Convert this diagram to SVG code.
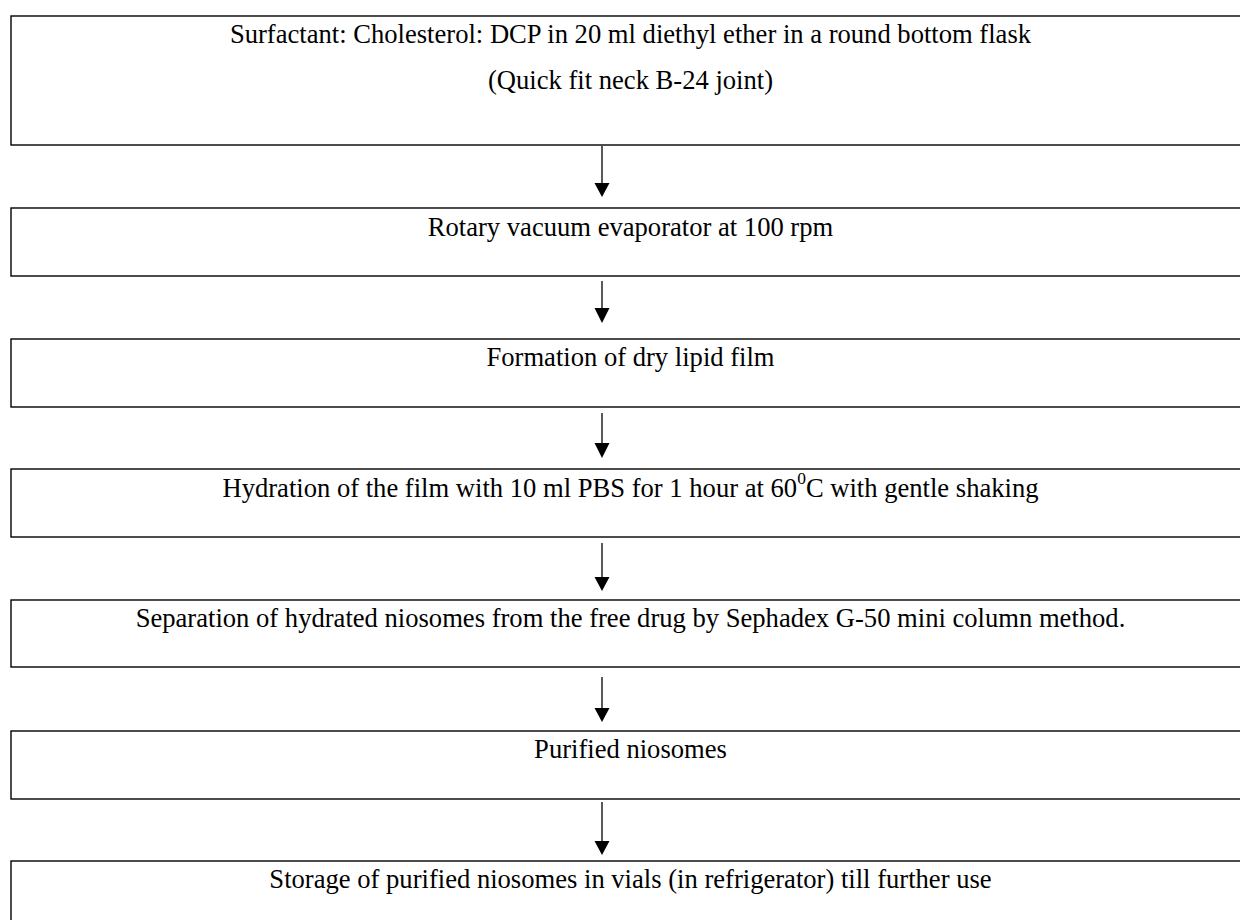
<svg xmlns="http://www.w3.org/2000/svg" width="1240" height="920" viewBox="0 0 1240 920">
<defs>
<style>
.box{fill:#fff;stroke:#000;stroke-width:1.4}
.t{font-family:"Liberation Serif","Times New Roman",serif;font-size:26.6px;fill:#000;text-anchor:middle}
.c{stroke:#000;stroke-width:1.3;fill:none}
.h{fill:#000}
</style>
</defs>
<rect width="1240" height="920" fill="#fff"/>
<g id="n1"><rect class="box" x="11" y="16" width="1240" height="129"/>
<text class="t" x="630.5" y="43">Surfactant: Cholesterol: DCP in 20 ml diethyl ether in a round bottom flask</text>
<text class="t" x="630.5" y="89">(Quick fit neck B-24 joint)</text></g>
<g id="n2"><rect class="box" x="11" y="208" width="1240" height="68"/>
<text class="t" x="630.5" y="236">Rotary vacuum evaporator at 100 rpm</text></g>
<g id="n3"><rect class="box" x="11" y="339" width="1240" height="68"/>
<text class="t" x="630.5" y="366">Formation of dry lipid film</text></g>
<g id="n4"><rect class="box" x="11" y="469" width="1240" height="68"/>
<text class="t" x="630.5" y="497">Hydration of the film with 10 ml PBS for 1 hour at 60<tspan dy="-13" font-size="17.5">0</tspan><tspan dy="13">C with gentle shaking</tspan></text></g>
<g id="n5"><rect class="box" x="11" y="600" width="1240" height="67"/>
<text class="t" x="630.5" y="627">Separation of hydrated niosomes from the free drug by Sephadex G-50 mini column method.</text></g>
<g id="n6"><rect class="box" x="11" y="731" width="1240" height="68"/>
<text class="t" x="630.5" y="758">Purified niosomes</text></g>
<g id="n7"><rect class="box" x="11" y="861" width="1240" height="80"/>
<text class="t" x="630.5" y="888">Storage of purified niosomes in vials (in refrigerator) till further use</text></g>
<g id="connectors">
<line class="c" x1="602" y1="146" x2="602" y2="184"/><polygon class="h" points="594.5,183 609.5,183 602,197"/>
<line class="c" x1="602" y1="281" x2="602" y2="309"/><polygon class="h" points="594.5,308 609.5,308 602,323"/>
<line class="c" x1="602" y1="413" x2="602" y2="444"/><polygon class="h" points="594.5,443 609.5,443 602,458"/>
<line class="c" x1="602" y1="543" x2="602" y2="578"/><polygon class="h" points="594.5,577 609.5,577 602,591"/>
<line class="c" x1="602" y1="677" x2="602" y2="709"/><polygon class="h" points="594.5,708 609.5,708 602,722"/>
<line class="c" x1="602" y1="802" x2="602" y2="842"/><polygon class="h" points="594.5,841 609.5,841 602,855"/>
</g>
</svg>
